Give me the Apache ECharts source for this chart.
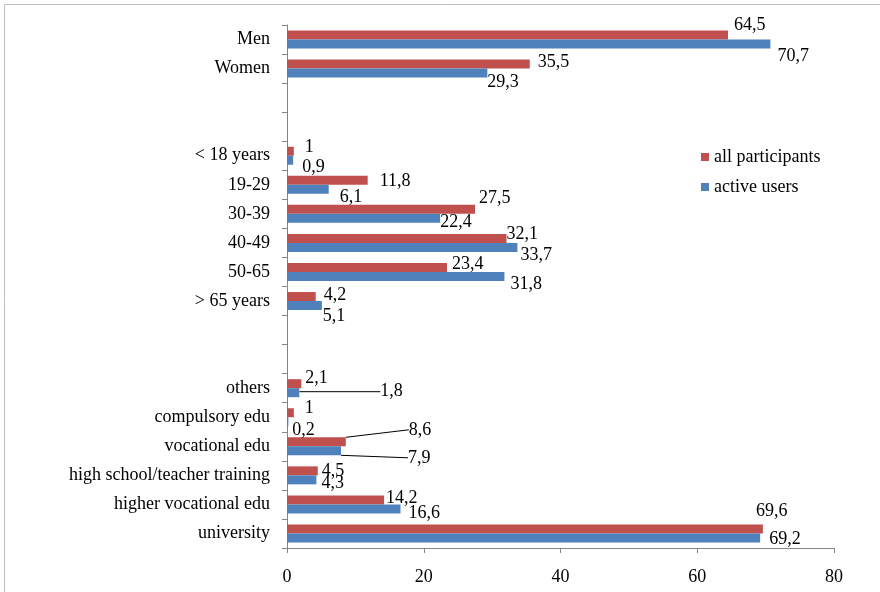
<!DOCTYPE html>
<html>
<head>
<meta charset="utf-8">
<title>participants vs active users</title>
<script src="https://cdn.jsdelivr.net/npm/echarts@6/dist/echarts.min.js"></script>
<style>
    html, body { margin: 0; padding: 0; background: #fff; }
    #main { width: 880px; height: 592px; }
</style>
</head>
<body>
<div id="main"></div>
<script>
var categories = ['Men', 'Women', ' ', '  ', '< 18 years', '19-29', '30-39', '40-49', '50-65', '> 65 years',
    '   ', '    ', 'others', 'compulsory edu', 'vocational edu', 'high school/teacher training',
    'higher vocational edu', 'university'];
var allParticipants = [64.5, 35.5, null, null, 1, 11.8, 27.5, 32.1, 23.4, 4.2,
    null, null, 2.1, 1, 8.6, 4.5, 14.2, 69.6];
var activeUsers = [70.7, 29.3, null, null, 0.9, 6.1, 22.4, 33.7, 31.8, 5.1,
    null, null, 1.8, 0.2, 7.9, 4.3, 16.6, 69.2];
var xTicks = [0, 20, 40, 60, 80];

// label nudges (dx, dy) so the value labels sit like in the original
var redNudge = [[1,-10],[3,-2],null,null,[6,-4],[7,1],[-1,-11],[-5,-4],[0,-3],[3,-1],
    null,null,[-1,-5],[6,-4],[58,-12],[-1,0],[-3,-2],[-12,-18]];
var blueNudge = [[2,12],[-5,9],null,null,[4,7],[6,8],[-5,4],[-2,8],[1,8],[-4,11],
    null,null,[76,-1],[-1,9],[62,7],[0,3],[3,4],[4,1]];
var leaders = { '0-14': true, '1-12': true, '1-14': true };

var serif = '"Liberation Serif", "DejaVu Serif", serif';
var fs = 18;

function fmt(p){
    return String(p.value).replace('.', ',');
}

function buildData(values, seriesIdx){
    return values.map(function(v, i){
        var item = { value: v };
        if (leaders[seriesIdx + '-' + i]) {
            item.labelLine = { show: true, lineStyle: { color: '#000', width: 1 } };
        }
        return item;
    });
}

function operateChart(){
    var chart = echarts.init(document.getElementById('main'));
    var option = {
        animation: false,
        graphic: [{
            type: 'rect',
            shape: { x: 4.5, y: 4.5, width: 900, height: 600 },
            style: { fill: 'none', stroke: '#bfbfbf', lineWidth: 1 },
            silent: true
        }],
        legend: {
            orient: 'vertical',
            left: 696,
            top: 143,
            itemWidth: 8,
            itemHeight: 8,
            itemGap: 12,
            icon: 'rect',
            textStyle: { fontFamily: serif, fontSize: fs, color: '#000' },
            data: ['all participants', 'active users']
        },
        grid: { left: 287, right: 46, top: 25, bottom: 44, containLabel: false },
        xAxis: {
            type: 'value',
            min: 0,
            max: 80,
            interval: 20,
            axisLine: { show: true, lineStyle: { color: '#868686' } },
            axisTick: { show: true, length: 5, lineStyle: { color: '#868686' } },
            splitLine: { show: false },
            axisLabel: {
                fontFamily: serif, fontSize: fs, color: '#000', margin: 20,
                formatter: function(v){ return xTicks.indexOf(v) >= 0 ? String(v) : ''; }
            }
        },
        yAxis: {
            type: 'category',
            inverse: true,
            data: categories,
            axisLine: { show: true, lineStyle: { color: '#868686' } },
            axisTick: { show: true, length: 5, lineStyle: { color: '#868686' } },
            axisLabel: { fontFamily: serif, fontSize: fs, color: '#000', margin: 17 }
        },
        series: [
            {
                name: 'all participants',
                type: 'bar',
                barWidth: 9,
                barGap: '0%',
                itemStyle: { color: '#c0504d' },
                data: buildData(allParticipants, 0),
                label: {
                    show: true, position: 'right', distance: 5,
                    fontFamily: serif, fontSize: fs, color: '#000',
                    formatter: fmt
                },
                labelLine: { show: false },
                labelLayout: function(p){
                    var n = redNudge[p.dataIndex] || [0, 0];
                    return { dx: n[0], dy: n[1] };
                }
            },
            {
                name: 'active users',
                type: 'bar',
                barWidth: 9,
                barGap: '0%',
                itemStyle: { color: '#4f81bd' },
                data: buildData(activeUsers, 1),
                label: {
                    show: true, position: 'right', distance: 5,
                    fontFamily: serif, fontSize: fs, color: '#000',
                    formatter: fmt
                },
                labelLine: { show: false },
                labelLayout: function(p){
                    var n = blueNudge[p.dataIndex] || [0, 0];
                    return { dx: n[0], dy: n[1] };
                }
            }
        ]
    };
    chart.setOption(option);
}

operateChart();
</script>
</body>
</html>
